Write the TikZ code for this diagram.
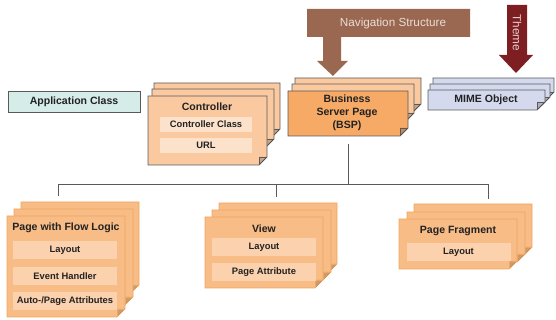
\documentclass[tikz,border=0pt]{standalone}
\usepackage{fontspec}
\setmainfont{Liberation Sans}

\definecolor{edge}{HTML}{5A5A5A}
\definecolor{txt}{HTML}{222222}
\definecolor{teal1}{HTML}{D5ECE8}
\definecolor{peach}{HTML}{FAC9A0}
\definecolor{peachin}{HTML}{FDE2CB}
\definecolor{bspfill}{HTML}{F6AA66}
\definecolor{lavender}{HTML}{D4D9EE}
\definecolor{pagefill}{HTML}{F8BC86}
\definecolor{pageedge}{HTML}{F2A65E}
\definecolor{pagein}{HTML}{FBD2AD}
\definecolor{navbrown}{HTML}{9A6751}
\definecolor{navtxt}{HTML}{EBDDD5}
\definecolor{themered}{HTML}{7C1E22}
\definecolor{themetxt}{HTML}{EBCFCF}

% one sheet with a dog-ear at the lower right: [style]{x1}{y1}{x2}{y2}
\newcommand{\sheet}[5][]{%
  \filldraw[#1] (#2,#3) -- (#4,#3) -- (#4,{#5-8}) -- ({#4-8},#5) -- (#2,#5) -- cycle;
  \fill[black,opacity=.18] (#4,{#5-8}) -- ({#4-8},{#5-8}) -- ({#4-8},#5) -- cycle;
  \draw[#1,fill=none] (#4,{#5-8}) -- ({#4-8},{#5-8}) -- ({#4-8},#5);}

\begin{document}
\begin{tikzpicture}
  [x=0.03cm,y=-0.03cm,
   every node/.style={font=\bfseries\fontsize{9}{11}\selectfont,text=txt,inner sep=0pt},
   ctrl/.style={draw=edge,fill=peach,line width=.7pt},
   bsp/.style={draw=edge,fill=bspfill,line width=.7pt},
   mime/.style={draw=edge,fill=lavender,line width=.7pt},
   page/.style={draw=pageedge,fill=pagefill,line width=.6pt},
   ctrlitem/.style={fill=peachin,minimum width=2.76cm,minimum height=.45cm,
                    font=\bfseries\fontsize{8}{10}\selectfont},
   pageitem/.style={fill=pagein,minimum width=3.12cm,minimum height=.54cm,
                    font=\bfseries\fontsize{8}{10}\selectfont},
   tree/.style={draw=edge,line width=.8pt}]
  \useasboundingbox (0,0) rectangle (556,320);

  % arrows coming in from above
  \fill[navbrown] (307,9) -- (470,9) -- (470,37) -- (341,37) -- (341,61) -- (348,61)
    -- (333,76) -- (317,61) -- (323,61) -- (323,37) -- (307,37) -- cycle;
  \node[font=\fontsize{10}{12}\selectfont,text=navtxt] (nav) at (393,23) {Navigation Structure};
  \fill[themered] (507,5) -- (527,5) -- (527,55) -- (533,55) -- (516,73) -- (499,55)
    -- (507,55) -- cycle;
  \node[font=\fontsize{10}{12}\selectfont,text=themetxt,rotate=-90] (theme) at (517,33) {Theme};

  % top row
  \node[draw=edge,fill=teal1,line width=.7pt,minimum width=3.96cm,minimum height=.63cm]
    (app) at (74,101.5) {Application Class};

  \sheet[ctrl]{154}{83}{280}{137}
  \sheet[ctrl]{152}{89}{274}{147}
  \sheet[ctrl]{148}{96}{267}{165}
  \node (ctrl) at (207,107) {Controller};
  \node[ctrlitem] (ctrlclass) at (206,124.5) {Controller Class};
  \node[ctrlitem] (url) at (206,145.5) {URL};

  \sheet[ctrl]{295}{78}{421}{112}
  \sheet[ctrl]{292}{84}{414}{121}
  \sheet[bsp]{288}{91}{408}{136}
  \node[align=center] (bsp) at (347,113) {Business\\Server Page\\(BSP)};

  \sheet[mime]{433}{78}{554}{100}
  \sheet[mime]{430}{84}{550}{105}
  \sheet[mime]{428}{90}{545}{110}
  \node (mime) at (486,100) {MIME Object};

  % bottom row
  \sheet[page]{21}{202}{139}{293}
  \sheet[page]{14}{209}{133}{305}
  \sheet[page]{7}{216}{125}{317}
  \node (flow) at (66,228) {Page with Flow Logic};
  \node[pageitem] (flowlayout) at (65,250) {Layout};
  \node[pageitem] (handler) at (65,276) {Event Handler};
  \node[pageitem] (attrs) at (65,301) {Auto-/Page Attributes};

  \sheet[page]{219}{203}{337}{272}
  \sheet[page]{212}{210}{331}{280}
  \sheet[page]{205}{217}{323}{288}
  \node (view) at (264,229) {View};
  \node[pageitem] (viewlayout) at (264,247) {Layout};
  \node[pageitem] (pageattr) at (264,272.5) {Page Attribute};

  \sheet[page]{414}{204}{532}{255}
  \sheet[page]{407}{212}{525}{262}
  \sheet[page]{399}{219}{517}{269}
  \node (frag) at (458,231) {Page Fragment};
  \node[pageitem] (fraglayout) at (458.5,252.5) {Layout};

  % tree below the BSP
  \coordinate (bspout) at (348,144);
  \coordinate (bus) at (348,184);
  \coordinate (busw) at (58,184);
  \coordinate (busv) at (276,184);
  \coordinate (buse) at (488,184);
  \coordinate (toflow) at (58,196);
  \coordinate (toview) at (276,197);
  \coordinate (tofrag) at (488,199);
  \foreach \from/\to in {bspout/bus,busw/buse,busw/toflow,busv/toview,buse/tofrag}
    \draw[tree] (\from) -- (\to);
\end{tikzpicture}
\end{document}
